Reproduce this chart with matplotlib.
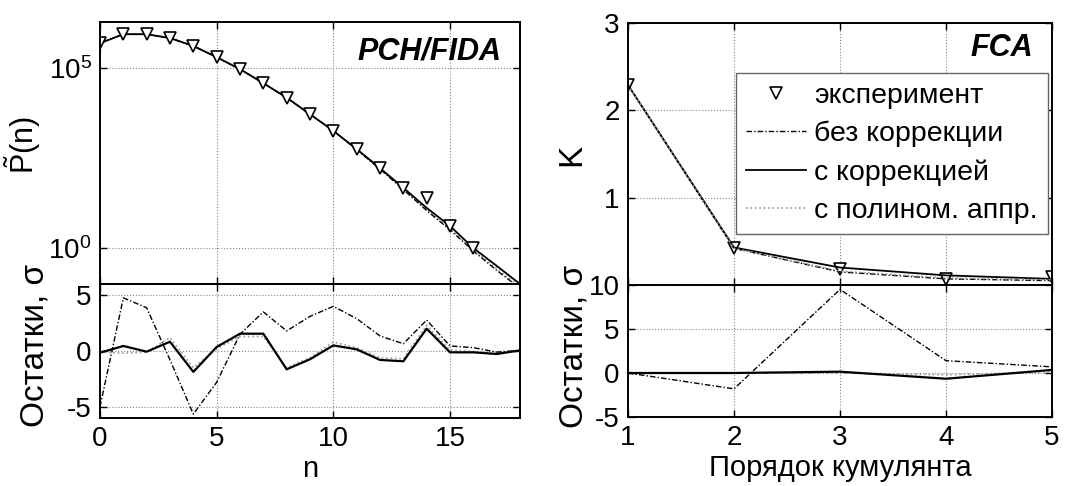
import numpy as np
from matplotlib import pyplot as plt

plt.rcParams['font.family'] = ['Liberation Sans', 'DejaVu Sans']
plt.rcParams['font.size'] = 20
plt.rcParams['mathtext.fontset'] = 'custom'
plt.rcParams['mathtext.rm'] = 'Liberation Sans'
plt.rcParams['mathtext.it'] = 'Liberation Sans:italic'
plt.rcParams['axes.unicode_minus'] = False

# ---- PCH/FIDA data ----
n = list(range(19))
n_exp = list(range(17))
p_exp = [4.9e5, 8.7e5, 8.7e5, 6.8e5, 4.1e5, 2.0e5, 9.3e4, 3.8e4, 1.5e4, 5.2e3,
         1.8e3, 560, 166, 47, 25, 4.1, 1.0]
p_nocorr = [4.9e5, 8.7e5, 8.7e5, 6.8e5, 4.1e5, 2.0e5, 9.3e4, 3.8e4, 1.5e4, 5.2e3,
            1.8e3, 540, 155, 42, 11, 3.2, 0.83, 0.24, 0.076]
p_corr = [4.9e5, 8.7e5, 8.7e5, 6.8e5, 4.1e5, 2.0e5, 9.3e4, 3.8e4, 1.5e4, 5.2e3,
          1.8e3, 560, 166, 47, 13, 4.1, 1.0, 0.32, 0.1]
p_poly = [4.9e5, 8.7e5, 8.7e5, 6.8e5, 4.1e5, 2.0e5, 9.3e4, 3.8e4, 1.5e4, 5.2e3,
          1.8e3, 550, 160, 45, 12, 3.6, 0.9, 0.27, 0.085]

r_nocorr = [-5.0, 4.76, 3.87, -0.8, -5.65, -2.8, 1.5, 3.5, 1.8, 3.1,
            4.0, 2.9, 1.35, 0.65, 2.77, 0.45, 0.3, -0.1, 0.05]
r_corr = [-0.15, 0.45, -0.06, 0.83, -1.87, 0.36, 1.55, 1.55, -1.64, -0.74,
          0.5, 0.15, -0.8, -0.92, 2.0, -0.12, -0.12, -0.27, 0.06]
r_poly = [-0.1, -0.2, -0.1, 1.2, -1.5, 0.2, 1.3, 1.3, -1.5, -0.6,
          0.8, 0.3, -0.6, -0.7, 2.3, 0.1, -0.05, -0.2, 0.05]

# ---- FCA data ----
order = [1, 2, 3, 4, 5]
k_exp = [2.29, 0.42, 0.18, 0.07, 0.09]
k_nocorr = [2.29, 0.42, 0.15, 0.07, 0.05]
k_corr = [2.29, 0.43, 0.20, 0.11, 0.07]
k_poly = [2.29, 0.42, 0.16, 0.08, 0.06]

rk_nocorr = [0.0, -1.8, 9.5, 1.4, 0.7]
rk_corr = [0.0, 0.0, 0.15, -0.65, 0.35]
rk_poly = [0.0, 0.0, 0.0, -0.2, 0.1]

labels = ['эксперимент', 'без коррекции', 'с коррекцией', 'с полином. аппр.']

dashdot = (0, (4, 1.5, 1, 1.5))
gray = '#9a9a9a'
msize = 8.5

W, H = 1090, 486
fig = plt.figure(figsize=(W / 100, H / 100), dpi=100)


def box(x0, y0, x1, y1):
    return [x0 / W, 1 - y1 / H, (x1 - x0) / W, (y1 - y0) / H]


def style(ax):
    ax.tick_params(direction='in', top=True, right=True, length=5, width=1,
                   labelsize=20, pad=6)
    ax.tick_params(which='minor', length=0)
    for s in ax.spines.values():
        s.set_linewidth(1.4)
    ax.grid(True, linestyle=':', color='#888888', linewidth=0.8)


ax1 = fig.add_axes(box(100, 22, 520, 284))
ax2 = fig.add_axes(box(100, 284, 520, 418))
ax3 = fig.add_axes(box(628, 23, 1052, 285))
ax4 = fig.add_axes(box(628, 285, 1052, 417))

# PCH/FIDA top
ax1.plot(n, p_poly, color=gray, linestyle=':', linewidth=1.2)
ax1.plot(n, p_nocorr, color='k', linestyle=dashdot, linewidth=1)
ax1.plot(n, p_corr, color='k', linewidth=1.3)
ax1.plot(n_exp, p_exp, linestyle='none', marker='v', markersize=msize,
         markerfacecolor='white', markeredgecolor='k', markeredgewidth=1.2)
ax1.set_yscale('log')
ax1.set_xlim(0, 18)
ax1.set_ylim(0.1, 1.9e6)
ax1.set_yticks([1, 1e5])
ax1.set_xticks([0, 5, 10, 15])
ax1.set_ylabel(r'$\tilde{\mathrm{P}}$(n)', fontsize=22)
ax1.yaxis.set_label_coords(-0.136, 0.53)
ax1.text(0.955, 0.945, 'PCH/FIDA', transform=ax1.transAxes, ha='right', va='top',
         fontsize=22, fontweight='bold', fontstyle='italic')
style(ax1)
ax1.tick_params(labelbottom=False)

# PCH/FIDA residuals
ax2.plot(n, r_poly, color=gray, linestyle=':', linewidth=1.2)
ax2.plot(n, r_nocorr, color='k', linestyle=dashdot, linewidth=1)
ax2.plot(n, r_corr, color='k', linewidth=1.6)
ax2.set_xlim(0, 18)
ax2.set_ylim(-6, 6)
ax2.set_xticks([0, 5, 10, 15])
ax2.set_yticks([-5, 0, 5])
ax2.set_xlabel('n', fontsize=21, labelpad=2)
ax2.set_ylabel('Остатки, σ', fontsize=24)
ax2.yaxis.set_label_coords(-0.119, 0.54)
style(ax2)

# FCA top
ax3.plot(order, k_exp, linestyle='none', marker='v', markersize=msize,
         markerfacecolor='white', markeredgecolor='k', markeredgewidth=1.2,
         label=labels[0])
ax3.plot(order, k_nocorr, color='k', linestyle=dashdot, linewidth=1,
         label=labels[1])
ax3.plot(order, k_corr, color='k', linewidth=1.3, label=labels[2])
ax3.plot(order, k_poly, color=gray, linestyle=':', linewidth=1.2,
         label=labels[3])
ax3.set_xlim(1, 5)
ax3.set_ylim(0, 3)
ax3.set_yticks([1, 2, 3])
ax3.set_xticks([1, 2, 3, 4, 5])
ax3.set_ylabel('K', fontsize=24)
ax3.yaxis.set_label_coords(-0.097, 0.496)
ax3.text(0.955, 0.962, 'FCA', transform=ax3.transAxes, ha='right', va='top',
         fontsize=22, fontweight='bold', fontstyle='italic')
style(ax3)
ax3.tick_params(labelbottom=False)
leg = ax3.legend(loc='upper right', bbox_to_anchor=(0.99, 0.81), fontsize=20.5,
                 frameon=True, fancybox=False, edgecolor='#666666',
                 framealpha=1, borderpad=0.35, labelspacing=0.42,
                 handlelength=2.1, handletextpad=0.3, borderaxespad=0)
leg.get_frame().set_linewidth(1)

# FCA residuals
ax4.plot(order, rk_poly, color=gray, linestyle=':', linewidth=1.2)
ax4.plot(order, rk_nocorr, color='k', linestyle=dashdot, linewidth=1)
ax4.plot(order, rk_corr, color='k', linewidth=1.6)
ax4.set_xlim(1, 5)
ax4.set_ylim(-5, 10)
ax4.set_xticks([1, 2, 3, 4, 5])
ax4.set_yticks([-5, 0, 5, 10])
ax4.set_xlabel('Порядок кумулянта', fontsize=21, labelpad=2)
ax4.set_ylabel('Остатки, σ', fontsize=24)
ax4.yaxis.set_label_coords(-0.09, 0.538)
style(ax4)

fig.savefig('out.png', dpi=100)
